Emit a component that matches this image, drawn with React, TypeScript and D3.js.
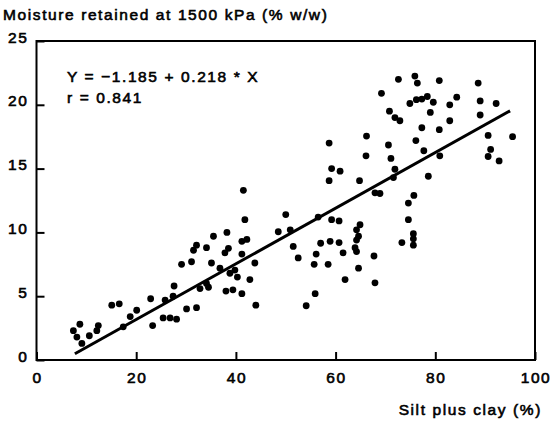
import React, { useEffect, useRef } from "react";
import * as d3 from "d3";

// silt plus clay (%)
const siltClay = [
  7.4, 8.7, 8.1, 9.1, 10.6, 12.1, 12.4, 15.1, 16.6, 17.4, 18.8, 20.1, 22.9, 23.3, 25.4, 25.8, 26.8, 28.1,
  27.6, 27.4, 30.1, 32.1, 29.1, 31.1, 31.5, 32.1, 34.1, 35.5, 34.5, 35.1, 38.2, 37.8, 38.0,
  41.5, 41.8, 50.0, 38.5, 41.2, 42.2, 48.5, 50.9, 51.5, 52.5, 41.2, 43.8, 36.8, 39.8, 38.8, 40.3, 42.8,
  34.1, 32.8, 39.4, 41.2, 44.0,
  66.2, 58.7, 70.6, 66.1, 71.1, 59.2, 60.9, 58.7, 64.8, 71.9, 71.6, 67.9, 68.9, 56.5, 59.2, 60.7, 64.9,
  64.2, 64.6, 64.2, 57.0, 58.9, 60.7, 63.9, 64.2, 56.1, 61.5, 67.7, 55.7, 58.5, 64.6, 61.9, 67.9, 55.9, 54.1,
  72.6, 75.9, 76.4, 80.8, 88.6, 69.2, 74.9, 76.2, 77.3, 78.4, 79.6, 82.9, 84.3, 89.0, 92.2, 70.8, 71.9,
  72.9, 79.0, 89.0, 82.9, 77.3, 80.8, 76.1, 90.6, 95.5, 77.7, 80.9, 91.1, 90.6, 92.8, 78.6, 75.7, 74.6,
  74.6, 75.6, 75.6, 73.3, 75.6,
];

// moisture retained at 1500 kPa (% w/w), same order
const moisture = [
  2.3, 2.8, 1.8, 1.3, 1.9, 2.3, 2.7, 4.3, 4.4, 2.6, 3.4, 3.9, 4.8, 2.7, 3.3, 4.7, 3.3, 3.2,
  5.8, 5.0, 4.0, 4.1, 7.5, 7.7, 8.6, 9.0, 8.8, 9.7, 5.7, 7.6, 10.0, 8.4, 5.4,
  13.3, 11.0, 11.4, 8.75, 9.3, 9.45, 10.05, 10.2, 8.9, 8.0, 8.3, 7.6, 7.2, 7.05, 6.8, 6.5, 6.3,
  6.0, 5.6, 5.5, 5.2, 4.3,
  17.55, 17.0, 16.85, 16.0, 15.8, 15.0, 14.8, 14.05, 14.05, 14.95, 14.3, 13.1, 13.05, 11.2, 11.0, 10.9, 10.6,
  10.2, 9.7, 9.4, 9.15, 9.3, 9.2, 8.8, 8.5, 8.3, 8.4, 8.15, 7.5, 7.5, 7.2, 6.3, 6.05, 5.2, 4.25,
  22.0, 22.25, 21.7, 21.9, 21.7, 20.9, 20.1, 20.4, 20.45, 20.65, 20.2, 20.0, 20.6, 20.3, 20.1, 19.5, 19.0,
  18.75, 19.4, 19.2, 18.75, 18.2, 18.05, 17.2, 17.6, 17.5, 16.4, 16.0, 16.5, 15.95, 15.6, 14.4, 12.9, 12.3,
  11.0, 9.9, 9.5, 9.2, 9.0,
];

const xTicks = [0, 20, 40, 60, 80, 100];
const yTicks = [0, 5, 10, 15, 20, 25];

// fitted line
const intercept = -1.185;
const slope = 0.218;
const fitRange = [7.7, 95];

const W = 550;
const H = 422;

const App = () => {
  const ref = useRef<SVGSVGElement>(null);

  useEffect(() => {
    const svg = d3.select(ref.current);
    svg.selectAll("*").remove();

    const x = d3.scaleLinear().domain([0, 100]).range([36.5, 535]);
    const y = d3.scaleLinear().domain([0, 25]).range([360, 41]);

    const font = "'Liberation Sans', Arial, Helvetica, sans-serif";
    const ink = "#000";

    // the scanned lettering is heavy and loosely spaced
    const txt = (g: any) =>
      g.attr("font-family", font).attr("font-size", 15.5).attr("letter-spacing", 1.6)
        .attr("fill", ink).attr("stroke", ink).attr("stroke-width", 0.6);

    // frame
    svg.append("rect")
      .attr("x", x(0)).attr("y", y(25))
      .attr("width", x(100) - x(0)).attr("height", y(0) - y(25))
      .attr("fill", "none").attr("stroke", ink).attr("stroke-width", 2);

    // inward ticks
    const xa = svg.append("g")
      .attr("transform", `translate(0,${y(0)})`)
      .call(d3.axisTop(x).tickValues(xTicks).tickSize(8).tickFormat(() => ""));
    xa.select(".domain").remove();
    xa.selectAll(".tick line").attr("stroke-width", 2);

    const ya = svg.append("g")
      .attr("transform", `translate(${x(0)},0)`)
      .call(d3.axisRight(y).tickValues(yTicks).tickSize(8).tickFormat(() => ""));
    ya.select(".domain").remove();
    ya.selectAll(".tick line").attr("stroke-width", 2);

    // tick labels
    svg.append("g").call(txt)
      .attr("text-anchor", "middle")
      .selectAll("text").data(xTicks).join("text")
      .attr("x", (d) => x(d) + 1).attr("y", y(0) + 23)
      .text((d) => d);

    svg.append("g").call(txt)
      .attr("text-anchor", "end")
      .selectAll("text").data(yTicks).join("text")
      .attr("x", x(0) - 8).attr("y", (d) => y(d) + 1.5)
      .text((d) => d);

    // titles
    svg.append("text").call(txt)
      .attr("x", 3).attr("y", 20)
      .text("Moisture retained at 1500 kPa (% w/w)");

    svg.append("text").call(txt)
      .attr("text-anchor", "end")
      .attr("x", 542).attr("y", 415)
      .text("Silt plus clay (%)");

    // equation
    svg.append("text").call(txt)
      .attr("x", 67).attr("y", 82)
      .text("Y = \u22121.185 + 0.218 * X");
    svg.append("text").call(txt)
      .attr("x", 67).attr("y", 103)
      .text("r = 0.841");

    // points
    const pts = siltClay.map((v, i) => [v, moisture[i]]);
    svg.append("g").attr("fill", ink)
      .selectAll("circle").data(pts).join("circle")
      .attr("cx", (d) => x(d[0])).attr("cy", (d) => y(d[1]))
      .attr("r", 3.4);

    // regression line
    const line = d3.line<number>().x((d) => x(d)).y((d) => y(intercept + slope * d));
    svg.append("path")
      .attr("d", line(fitRange))
      .attr("fill", "none").attr("stroke", ink).attr("stroke-width", 3);
  }, []);

  return (
    <div>
      <svg ref={ref} width={W} height={H} style={{ position: "absolute", left: 0, top: 0, background: "#fff" }} />
    </div>
  );
};

export default App;
